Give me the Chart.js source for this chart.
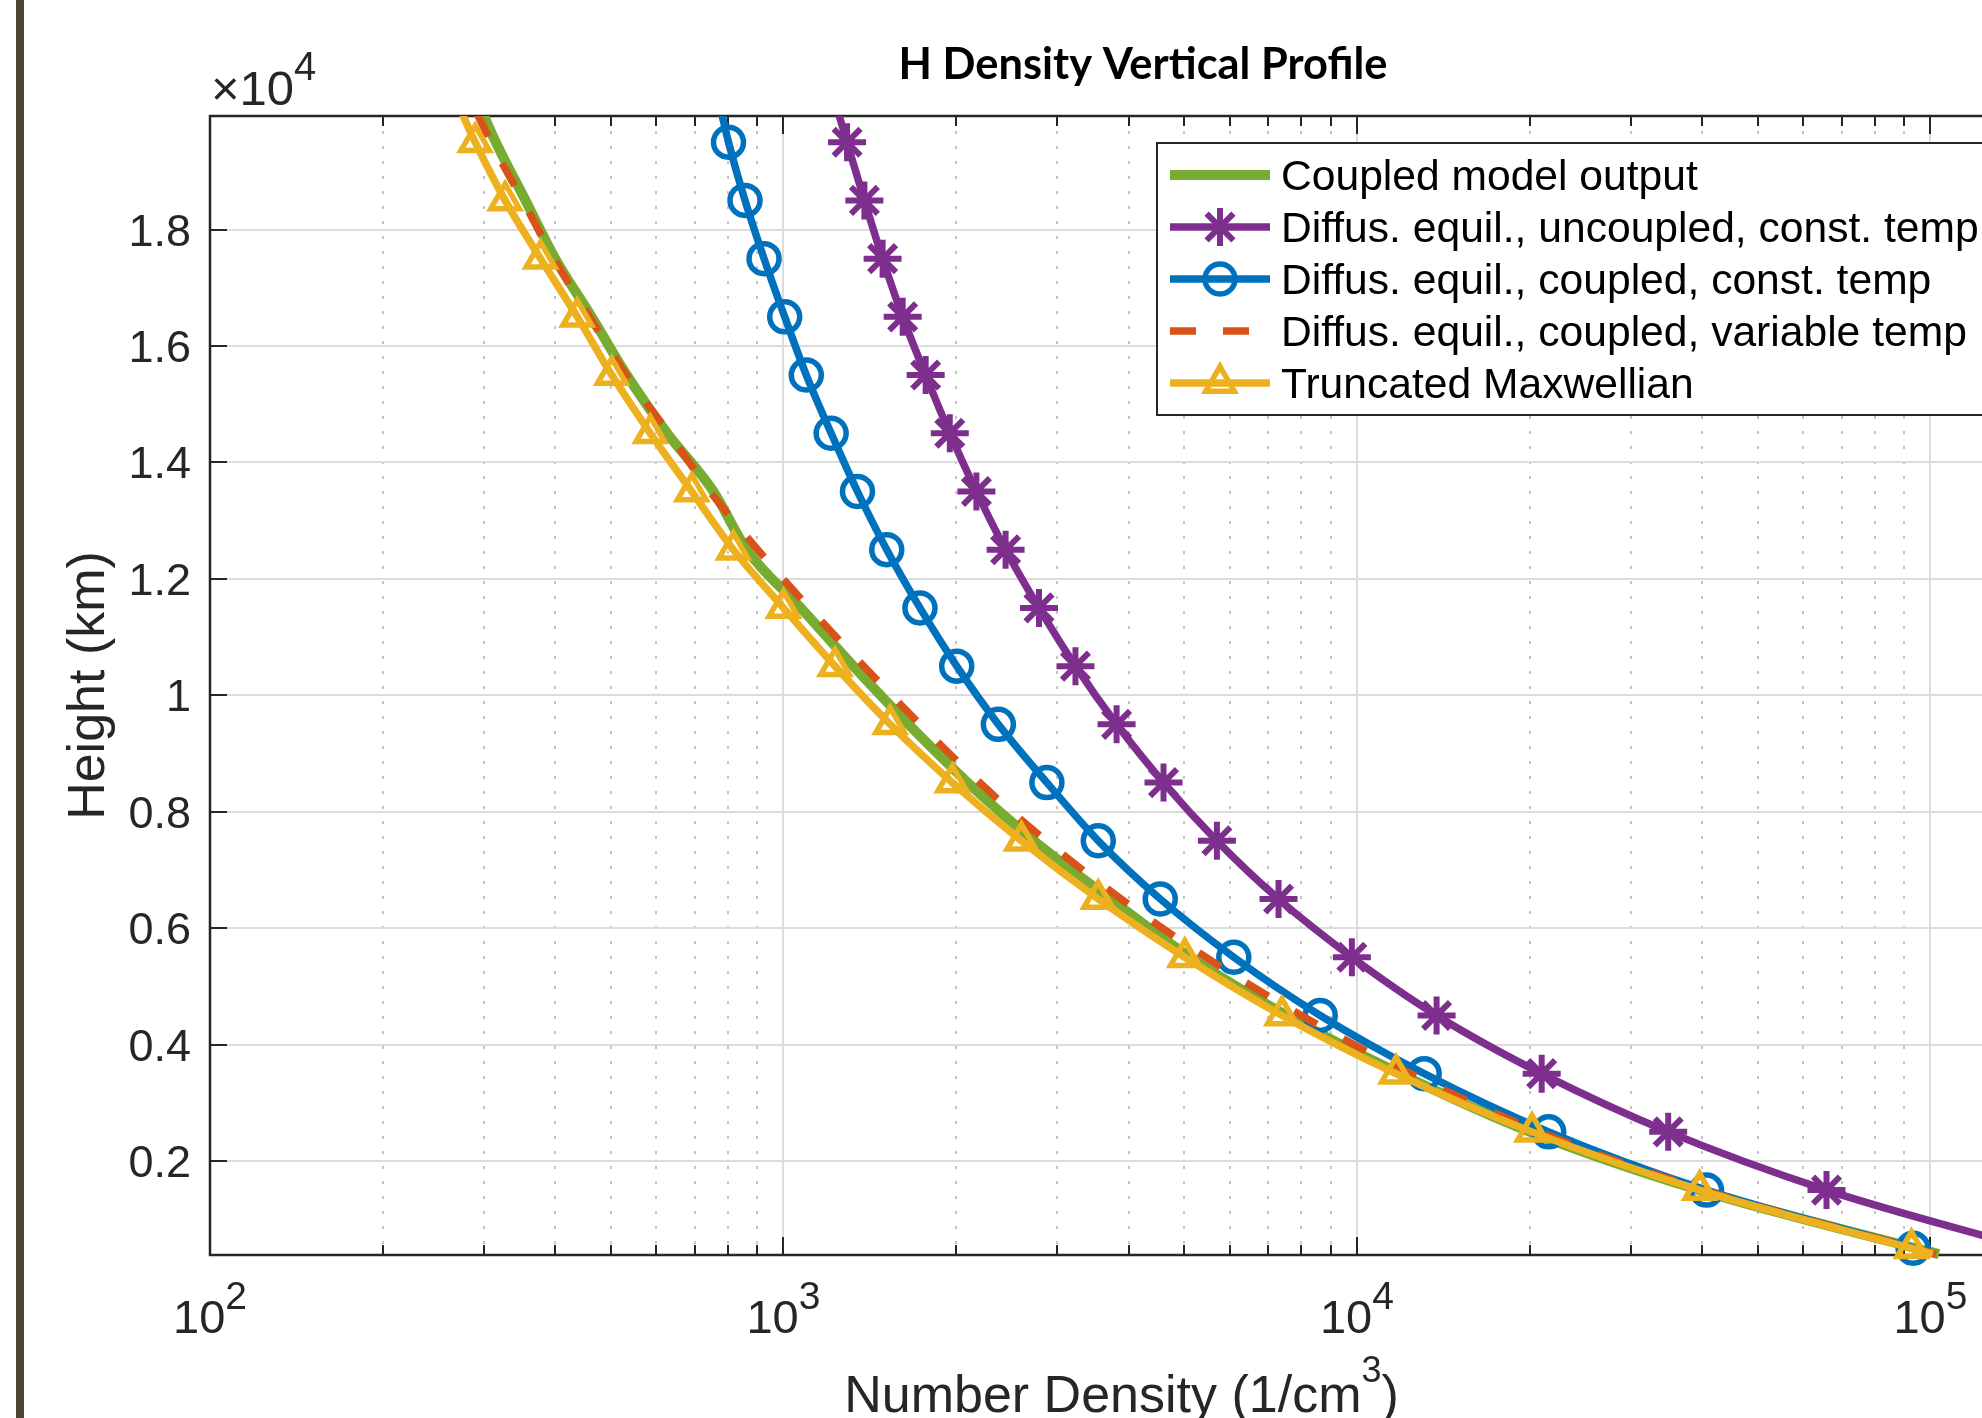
<!DOCTYPE html>
<html>
<head>
<meta charset="utf-8">
<title>H Density Vertical Profile</title>
<script src="https://cdn.jsdelivr.net/npm/chart.js@4.4.1/dist/chart.umd.min.js"></script>
<style>
  html, body { margin: 0; padding: 0; background: #fff; overflow: hidden; }
  #marco { position: relative; width: 1982px; height: 1418px; overflow: hidden; background: #fff; }
  #grafico { position: absolute; left: 0; top: 0; }
  #barra { position: absolute; left: 16px; top: 0; width: 8px; height: 1418px; background: #4b4530; }
</style>
</head>
<body>
<div id="marco">
  <canvas id="grafico" width="2060" height="1418"></canvas>
  <div id="barra"></div>
</div>
<script>
// ===============================
// DATOS
// ===============================
// alturas en km, de arriba hacia abajo
const alturas = [20000, 19500, 18500, 17500, 16500, 15500, 14500, 13500, 12500, 11500, 10500,
  9500, 8500, 7500, 6500, 5500, 4500, 3500, 2500, 1500, 500, 400];

// densidades (1/cm^3) en cada altura
const acoplado = [299, 315, 355, 400, 463, 533, 627, 755, 863, 1072, 1324,
  1652, 2095, 2735, 3715, 5117, 7530, 11890, 20050, 39500, 94400, 103500];
const noAcopladoConst = [1247, 1291, 1384, 1489, 1614, 1770, 1950, 2170, 2440, 2790, 3230,
  3810, 4600, 5700, 7300, 9800, 13770, 21000, 34900, 65900, 148000, 160000];
const acopladoConst = [780, 802, 857, 925, 1005, 1096, 1211, 1346, 1514, 1730, 2005,
  2370, 2880, 3540, 4540, 6100, 8630, 13100, 21600, 40700, 93300, 101000];
const acopladoVariable = [292, 309, 351, 398, 459, 532, 631, 745, 902, 1109, 1380,
  1730, 2198, 2871, 3880, 5450, 8000, 12400, 20800, 40270, 93760, 102300];
const maxwelliana = [275, 290, 327, 377, 437, 502, 586, 692, 818, 1000, 1230,
  1535, 1970, 2600, 3540, 5010, 7400, 11700, 20200, 39600, 92700, 101000];

const nombres = [
  "Coupled model output",
  "Diffus. equil., uncoupled, const. temp",
  "Diffus. equil., coupled, const. temp",
  "Diffus. equil., coupled, variable temp",
  "Truncated Maxwellian"
];

const ticksX = [100, 1000, 10000, 100000];
const exponentesX = ["2", "3", "4", "5"];
const ticksY = [2000, 4000, 6000, 8000, 10000, 12000, 14000, 16000, 18000];
const etiquetasY = ["0.2", "0.4", "0.6", "0.8", "1", "1.2", "1.4", "1.6", "1.8"];

// ===============================
// ESTILOS
// ===============================
const FUENTE = '"Liberation Sans", Arimo, Arial, sans-serif';
const GRIS = "#262626";
const VERDE = "#77AC30";
const MORADO = "#7E2F8E";
const AZUL = "#0072BD";
const NARANJA = "#D95319";
const AMARILLO = "#EDB120";

function puntos(valores) {
  return valores.map((v, i) => ({ x: v, y: alturas[i] }));
}

// sin marcador en los extremos de la curva
function radioMarcador(r) {
  return c => (c.dataIndex === 0 || c.dataIndex === alturas.length - 1) ? 0 : r;
}

const comun = {
  fill: false,
  showLine: true,
  cubicInterpolationMode: "monotone",
  borderJoinStyle: "round",
  pointBackgroundColor: "rgba(0,0,0,0)",
  pointHoverRadius: 0,
  clip: { left: 0, top: 0, right: 0, bottom: 30 }
};

const conjuntos = [
  Object.assign({}, comun, {
    label: nombres[0], data: puntos(acoplado),
    borderColor: VERDE, borderWidth: 10, pointRadius: 0, order: 5
  }),
  Object.assign({}, comun, {
    label: nombres[1], data: puntos(noAcopladoConst),
    borderColor: MORADO, borderWidth: 7.5,
    pointStyle: "star", pointRadius: radioMarcador(19), pointBorderWidth: 6,
    pointBorderColor: MORADO, order: 4
  }),
  Object.assign({}, comun, {
    label: nombres[2], data: puntos(acopladoConst),
    borderColor: AZUL, borderWidth: 7.5,
    pointStyle: "circle", pointRadius: radioMarcador(15), pointBorderWidth: 5.5,
    pointBorderColor: AZUL, order: 3
  }),
  Object.assign({}, comun, {
    label: nombres[3], data: puntos(acopladoVariable),
    borderColor: NARANJA, borderWidth: 7.5, borderDash: [26, 30],
    pointRadius: 0, order: 2
  }),
  Object.assign({}, comun, {
    label: nombres[4], data: puntos(maxwelliana),
    borderColor: AMARILLO, borderWidth: 7.5,
    pointStyle: "triangle", pointRadius: radioMarcador(16.5), pointBorderWidth: 5.5,
    pointBorderColor: AMARILLO, order: 1
  })
];

// ===============================
// FUNCIONES DE DIBUJO
// ===============================
function linea(ctx, x1, y1, x2, y2) {
  ctx.beginPath();
  ctx.moveTo(x1, y1);
  ctx.lineTo(x2, y2);
  ctx.stroke();
}

function potencia(ctx, base, exp, x0, yBase, tamBase, tamExp, subida, centrado) {
  ctx.font = `${tamBase}px ${FUENTE}`;
  const wb = ctx.measureText(base).width;
  ctx.font = `${tamExp}px ${FUENTE}`;
  const we = ctx.measureText(exp).width;
  const xi = centrado ? x0 - (wb + we) / 2 : x0;
  ctx.textAlign = "left";
  ctx.textBaseline = "alphabetic";
  ctx.font = `${tamBase}px ${FUENTE}`;
  ctx.fillText(base, xi, yBase);
  ctx.font = `${tamExp}px ${FUENTE}`;
  ctx.fillText(exp, xi + wb, yBase - subida);
}

function marcador(ctx, estilo, x, y, r, ancho, color) {
  ctx.save();
  ctx.strokeStyle = color;
  ctx.fillStyle = "rgba(0,0,0,0)";
  ctx.lineWidth = ancho;
  ctx.setLineDash([]);
  if (Chart.helpers && Chart.helpers.drawPoint) {
    Chart.helpers.drawPoint(ctx, { pointStyle: estilo, radius: r, rotation: 0, borderWidth: ancho }, x, y);
  } else {
    ctx.beginPath();
    if (estilo === "circle") {
      ctx.arc(x, y, r, 0, Math.PI * 2);
    } else if (estilo === "triangle") {
      for (let k = 0; k < 3; k++) {
        const ang = k * 2 * Math.PI / 3;
        const px = x + Math.sin(ang) * r, py = y - Math.cos(ang) * r;
        k === 0 ? ctx.moveTo(px, py) : ctx.lineTo(px, py);
      }
      ctx.closePath();
    } else {
      for (let k = 0; k < 4; k++) {
        const ang = k * Math.PI / 4;
        ctx.moveTo(x - Math.cos(ang) * r, y - Math.sin(ang) * r);
        ctx.lineTo(x + Math.cos(ang) * r, y + Math.sin(ang) * r);
      }
    }
    ctx.stroke();
  }
  ctx.restore();
}

// ===============================
// PLUGIN: CUADRICULA Y EJES (estilo MATLAB)
// ===============================
const ejes = {
  id: "ejes",
  beforeDatasetsDraw(chart) {
    const { ctx, chartArea: a, scales: { x, y } } = chart;
    const menores = [];
    ticksX.forEach(d => {
      for (let k = 2; k <= 9; k++) if (k * d <= x.max) menores.push(k * d);
    });

    ctx.save();
    // rejilla menor punteada
    ctx.strokeStyle = "#bdbdbd";
    ctx.lineWidth = 1.8;
    ctx.setLineDash([3, 12]);
    menores.forEach(v => {
      const px = Math.round(x.getPixelForValue(v));
      linea(ctx, px, a.top, px, a.bottom);
    });

    // rejilla mayor
    ctx.setLineDash([]);
    ctx.strokeStyle = "#dcdcdc";
    ctx.lineWidth = 2;
    ticksX.forEach(v => {
      const px = Math.round(x.getPixelForValue(v));
      if (px > a.left + 2 && px < a.right) linea(ctx, px, a.top, px, a.bottom);
    });
    ticksY.forEach(v => {
      const py = Math.round(y.getPixelForValue(v));
      linea(ctx, a.left, py, a.right, py);
    });

    // caja
    ctx.strokeStyle = GRIS;
    ctx.lineWidth = 2.5;
    ctx.strokeRect(a.left, a.top, a.right - a.left, a.bottom - a.top);

    // marcas hacia dentro
    ctx.lineWidth = 2;
    ticksX.forEach(v => {
      const px = Math.round(x.getPixelForValue(v));
      linea(ctx, px, a.bottom, px, a.bottom - 18);
      linea(ctx, px, a.top, px, a.top + 18);
    });
    menores.forEach(v => {
      const px = Math.round(x.getPixelForValue(v));
      linea(ctx, px, a.bottom, px, a.bottom - 10);
      linea(ctx, px, a.top, px, a.top + 10);
    });
    ticksY.forEach(v => {
      const py = Math.round(y.getPixelForValue(v));
      linea(ctx, a.left, py, a.left + 17, py);
      linea(ctx, a.right, py, a.right - 17, py);
    });
    ctx.restore();
  },

  afterDraw(chart) {
    const { ctx, chartArea: a, scales: { x, y } } = chart;
    ctx.save();
    ctx.fillStyle = GRIS;

    // etiquetas eje y
    ctx.font = `45px ${FUENTE}`;
    ctx.textAlign = "right";
    ctx.textBaseline = "alphabetic";
    ticksY.forEach((v, i) => {
      ctx.fillText(etiquetasY[i], a.left - 19, y.getPixelForValue(v) + 16);
    });

    // etiquetas eje x (10^n)
    ticksX.forEach((v, i) => {
      potencia(ctx, "10", exponentesX[i], x.getPixelForValue(v), a.bottom + 78, 47, 39, 24, true);
    });

    // multiplicador x10^4
    potencia(ctx, "\u00d710", "4", a.left + 1, a.top - 11, 49, 40, 25, false);

    // titulo eje y
    ctx.save();
    ctx.translate(104, (a.top + a.bottom) / 2);
    ctx.rotate(-Math.PI / 2);
    ctx.font = `52px ${FUENTE}`;
    ctx.textAlign = "center";
    ctx.fillText("Height (km)", 0, 0);
    ctx.restore();

    // titulo eje x
    const cx = (a.left + a.right) / 2;
    const p1 = "Number Density (1/cm", p2 = "3", p3 = ")";
    ctx.font = `52px ${FUENTE}`;
    const w1 = ctx.measureText(p1).width, w3 = ctx.measureText(p3).width;
    ctx.font = `36px ${FUENTE}`;
    const w2 = ctx.measureText(p2).width;
    let xt = cx - (w1 + w2 + w3) / 2;
    ctx.textAlign = "left";
    ctx.font = `52px ${FUENTE}`;
    ctx.fillText(p1, xt, 1412);
    ctx.font = `36px ${FUENTE}`;
    ctx.fillText(p2, xt + w1, 1382);
    ctx.font = `52px ${FUENTE}`;
    ctx.fillText(p3, xt + w1 + w2, 1412);

    // titulo
    const titulo = "H Density Vertical Profile";
    ctx.fillStyle = "#000";
    ctx.font = `bold 42px Lato, "Open Sans", sans-serif`;
    const wt = ctx.measureText(titulo).width;
    const tam = Math.max(34, Math.min(48, 42 * 489 / wt));
    ctx.font = `bold ${tam}px Lato, "Open Sans", sans-serif`;
    ctx.textAlign = "center";
    ctx.fillText(titulo, 1143, 79);

    // leyenda
    const lx = 1157, ly = 143, lw = a.right - 20 - lx, lh = 272;
    ctx.fillStyle = "#fff";
    ctx.fillRect(lx, ly, lw, lh);
    ctx.strokeStyle = GRIS;
    ctx.lineWidth = 2;
    ctx.strokeRect(lx, ly, lw, lh);

    ctx.font = `42.6px ${FUENTE}`;
    ctx.textAlign = "left";
    chart.data.datasets.forEach((ds, i) => {
      const fy = ly + 32 + i * 52;
      ctx.strokeStyle = ds.borderColor;
      ctx.lineWidth = ds.borderWidth;
      ctx.setLineDash(ds.borderDash ? [26, 27] : []);
      linea(ctx, 1170, fy, 1270, fy);
      ctx.setLineDash([]);
      if (ds.pointStyle) {
        const r = ds.pointRadius({ dataIndex: 1 });
        marcador(ctx, ds.pointStyle, 1220, fy, r, ds.pointBorderWidth, ds.pointBorderColor);
      }
      ctx.fillStyle = "#000";
      ctx.fillText(ds.label, 1281, fy + 15);
    });
    ctx.restore();
  }
};

// ===============================
// GRAFICO CON CHART.JS
// ===============================
const ctx = document.getElementById("grafico").getContext("2d");
const grafico = new Chart(ctx, {
  type: "line",
  data: { datasets: conjuntos },
  options: {
    responsive: false,
    animation: false,
    devicePixelRatio: 1,
    events: [],
    layout: { padding: { left: 0, top: 116, right: 27, bottom: 0 } },
    plugins: { legend: { display: false }, tooltip: { enabled: false }, title: { display: false } },
    scales: {
      x: {
        type: "logarithmic",
        position: "bottom",
        min: 100,
        max: 151000,
        grid: { display: false },
        border: { display: false },
        ticks: { display: false },
        afterFit: s => { s.height = 163; }
      },
      y: {
        type: "linear",
        position: "left",
        min: 385,
        max: 19950,
        grid: { display: false },
        border: { display: false },
        ticks: { display: false },
        afterFit: s => { s.width = 210; }
      }
    }
  },
  plugins: [ejes]
});
</script>
</body>
</html>
